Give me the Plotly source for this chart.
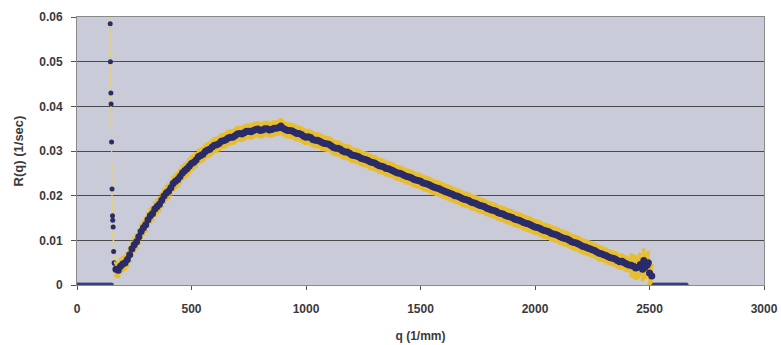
import plotly.graph_objects as go

# ---- data ----
q_zero_left = [0, 10, 20, 30, 40, 50, 60, 70, 80, 90, 100, 110, 120, 130, 140, 150]
r_zero_left = [0, 0, 0, 0, 0, 0, 0, 0, 0, 0, 0, 0, 0, 0, 0, 0]

q_spike = [145, 146, 148, 149, 151, 153, 155, 156, 158, 160, 162, 164]
r_spike = [0.0585, 0.050, 0.043, 0.0405, 0.032, 0.0215, 0.0155, 0.0145, 0.013, 0.0075, 0.005, 0.0048]
e_spike = [0.005, 0.005, 0.005, 0.005, 0.005, 0.005, 0.004, 0.004, 0.004, 0.003, 0.002, 0.002]

q_curve = [170, 190, 210, 230, 250, 270, 290, 310, 330, 350,
           370, 390, 410, 430, 450, 470, 490, 510, 530, 550,
           570, 590, 610, 630, 650, 670, 690, 710, 730, 750,
           770, 790, 810, 830, 850, 870, 890, 910, 930, 950,
           970, 990, 1010, 1030, 1050, 1070, 1090, 1110, 1130, 1150,
           1170, 1190, 1210, 1230, 1250, 1270, 1290, 1310, 1330, 1350,
           1370, 1390, 1410, 1430, 1450, 1470, 1490, 1510, 1530, 1550,
           1570, 1590, 1610, 1630, 1650, 1670, 1690, 1710, 1730, 1750,
           1770, 1790, 1810, 1830, 1850, 1870, 1890, 1910, 1930, 1950,
           1970, 1990, 2010, 2030, 2050, 2070, 2090, 2110, 2130, 2150,
           2170, 2190, 2210, 2230, 2250, 2270, 2290, 2310, 2330, 2350,
           2370, 2390, 2410, 2430, 2450, 2470, 2475, 2490, 2495, 2500, 2510]
r_curve = [0.0035, 0.0042, 0.0050, 0.0068, 0.0090, 0.0108, 0.0128, 0.0146, 0.0160, 0.0176,
           0.0190, 0.0206, 0.0218, 0.0232, 0.0243, 0.0256, 0.0266, 0.0275, 0.0287, 0.0293,
           0.0302, 0.0309, 0.0314, 0.0322, 0.0325, 0.0331, 0.0334, 0.0339, 0.0341, 0.0344,
           0.0346, 0.0349, 0.0347, 0.0350, 0.0348, 0.0351, 0.0356, 0.0348, 0.0346, 0.0342,
           0.0339, 0.0333, 0.0332, 0.0326, 0.0324, 0.0319, 0.0316, 0.0312, 0.0306, 0.0304,
           0.0298, 0.0295, 0.0290, 0.0287, 0.0282, 0.0279, 0.0274, 0.0270, 0.0266, 0.0261,
           0.0258, 0.0253, 0.0250, 0.0245, 0.0242, 0.0237, 0.0234, 0.0229, 0.0226, 0.0221,
           0.0217, 0.0213, 0.0209, 0.0205, 0.0200, 0.0197, 0.0192, 0.0189, 0.0184, 0.0180,
           0.0177, 0.0172, 0.0168, 0.0165, 0.0160, 0.0156, 0.0153, 0.0148, 0.0145, 0.0140,
           0.0137, 0.0132, 0.0129, 0.0124, 0.0121, 0.0116, 0.0113, 0.0108, 0.0104, 0.0100,
           0.0095, 0.0092, 0.0086, 0.0083, 0.0079, 0.0074, 0.0070, 0.0066, 0.0061, 0.0058,
           0.0052, 0.0050, 0.0045, 0.0042, 0.0040, 0.0035, 0.0055, 0.0045, 0.0050, 0.0027, 0.0020]

q_curve_b = [180, 200, 220, 240, 260, 280, 300, 320, 340, 360,
             380, 400, 420, 440, 460, 480, 500, 520, 540, 560,
             580, 600, 620, 640, 660, 680, 700, 720, 740, 760,
             780, 800, 820, 840, 860, 880, 900, 920, 940, 960,
             980, 1000, 1020, 1040, 1060, 1080, 1100, 1120, 1140, 1160,
             1180, 1200, 1220, 1240, 1260, 1280, 1300, 1320, 1340, 1360,
             1380, 1400, 1420, 1440, 1460, 1480, 1500, 1520, 1540, 1560,
             1580, 1600, 1620, 1640, 1660, 1680, 1700, 1720, 1740, 1760,
             1780, 1800, 1820, 1840, 1860, 1880, 1900, 1920, 1940, 1960,
             1980, 2000, 2020, 2040, 2060, 2080, 2100, 2120, 2140, 2160,
             2180, 2200, 2220, 2240, 2260, 2280, 2300, 2320, 2340, 2360,
             2380, 2400, 2420, 2440, 2460, 2480]
r_curve_b = [0.0033, 0.0047, 0.0057, 0.0081, 0.0097, 0.0120, 0.0135, 0.0155, 0.0170, 0.0181,
             0.0199, 0.0210, 0.0227, 0.0236, 0.0251, 0.0260, 0.0272, 0.0280, 0.0290, 0.0299,
             0.0304, 0.0313, 0.0317, 0.0323, 0.0329, 0.0331, 0.0338, 0.0338, 0.0344, 0.0343,
             0.0348, 0.0346, 0.0350, 0.0347, 0.0351, 0.0352, 0.0351, 0.0346, 0.0345, 0.0339,
             0.0337, 0.0331, 0.0330, 0.0324, 0.0322, 0.0317, 0.0315, 0.0308, 0.0306, 0.0300,
             0.0298, 0.0291, 0.0289, 0.0284, 0.0281, 0.0276, 0.0273, 0.0267, 0.0264, 0.0260,
             0.0256, 0.0251, 0.0248, 0.0243, 0.0240, 0.0235, 0.0232, 0.0227, 0.0224, 0.0219,
             0.0216, 0.0211, 0.0207, 0.0203, 0.0199, 0.0194, 0.0191, 0.0186, 0.0183, 0.0178,
             0.0175, 0.0170, 0.0167, 0.0162, 0.0159, 0.0154, 0.0151, 0.0146, 0.0143, 0.0138,
             0.0135, 0.0130, 0.0127, 0.0122, 0.0119, 0.0114, 0.0111, 0.0106, 0.0103, 0.0097,
             0.0094, 0.0089, 0.0085, 0.0081, 0.0077, 0.0071, 0.0068, 0.0063, 0.0060, 0.0055,
             0.0053, 0.0047, 0.0044, 0.0038, 0.0046, 0.0040]

q_zero_right = [2520, 2530, 2540, 2550, 2560, 2570, 2580, 2590, 2600, 2610, 2620, 2630, 2640, 2650, 2660]
r_zero_right = [0, 0, 0, 0, 0, 0, 0, 0, 0, 0, 0, 0, 0, 0, 0]

x_ticks = [0, 500, 1000, 1500, 2000, 2500, 3000]
y_ticks = [0, 0.01, 0.02, 0.03, 0.04, 0.05, 0.06]
y_tick_labels = ["0", "0.01", "0.02", "0.03", "0.04", "0.05", "0.06"]

# error sizes (1/sec): regular band, larger at the noisy high-q end
err_main = 0.0015
err_end = 0.0024
end_start_q = 2420

# ---- figure ----
NAVY = "#2a2b69"
GOLD = "#e8bd2e"

pairs = sorted(zip(q_curve + q_curve_b, r_curve + r_curve_b))
q_main = [p[0] for p in pairs]
r_main = [p[1] for p in pairs]
e_main = [err_end if q >= end_start_q else err_main for q in q_main]

fig = go.Figure()
# pale error bars of the spike
fig.add_trace(go.Scatter(
    x=q_spike, y=r_spike, mode="markers",
    marker=dict(color=NAVY, size=5, line=dict(width=0)),
    error_y=dict(type="data", array=e_spike, visible=True,
                 color="#e2cf86", thickness=1.2, width=1),
    showlegend=False,
))
# main curve
fig.add_trace(go.Scatter(
    x=q_main, y=r_main, mode="markers",
    marker=dict(color=NAVY, size=7, line=dict(width=0)),
    error_y=dict(type="data", array=e_main, visible=True,
                 color=GOLD, thickness=2.5, width=2),
    showlegend=False,
))
# zero points
fig.add_trace(go.Scatter(
    x=q_zero_left + q_zero_right, y=r_zero_left + r_zero_right, mode="markers",
    marker=dict(color="#3a3f7a", size=5, line=dict(width=0)),
    showlegend=False,
))

font_axis = dict(family="Liberation Sans, Arial, sans-serif", size=12, color="#3a3a3a", weight="bold")

fig.update_layout(
    width=781, height=345,
    margin=dict(l=77, r=17, t=17, b=60),
    paper_bgcolor="#ffffff",
    plot_bgcolor="#cacbd9",
    font=font_axis,
    xaxis=dict(
        range=[0, 3000], tickvals=x_ticks, tickformat="d",
        showgrid=False, zeroline=False, automargin=False,
        showline=True, linecolor="#8a8a8a", linewidth=1, mirror=True,
        ticks="outside", ticklen=4, tickcolor="#555555",
        ticklabelstandoff=9,
        tickfont=font_axis,
        title=dict(text="q (1/mm)", font=font_axis, standoff=16),
    ),
    yaxis=dict(
        range=[0, 0.06], tickvals=y_ticks, ticktext=y_tick_labels,
        showgrid=True, gridcolor="#4a4a4a", gridwidth=1, zeroline=False, automargin=False,
        showline=True, linecolor="#8a8a8a", linewidth=1, mirror=True,
        ticks="outside", ticklen=5, tickcolor="#555555",
        ticklabelstandoff=6,
        tickfont=font_axis,
        title=dict(text="R(q) (1/sec)", font=dict(family="Liberation Sans, Arial, sans-serif", size=13, color="#3a3a3a", weight="bold"), standoff=12),
    ),
)

fig.write_html(
    "out.html",
    config={"displayModeBar": False},
    post_script="document.body.style.margin='0';document.body.style.overflow='hidden';",
)
